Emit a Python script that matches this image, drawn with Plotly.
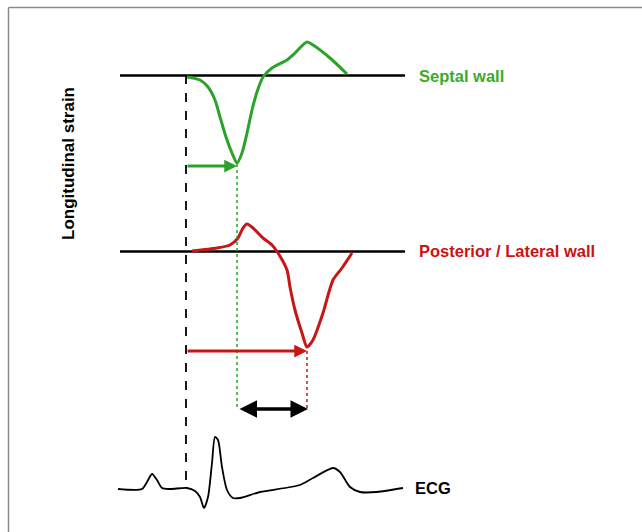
import plotly.graph_objects as go

# ---- data (schematic time / strain coordinates) ----
septal_t = [187, 200, 208, 215, 220, 226, 232, 237, 242, 247, 252, 257, 263, 272, 287, 293, 307, 313, 330, 347]
septal_s = [77, 80, 87, 100, 117, 137, 153, 163, 153, 133, 110, 92, 77, 68, 60, 55, 42, 45, 58, 74]

lateral_t = [192, 217, 230, 238, 243, 247, 253, 263, 272, 278, 287, 290, 295, 302, 307, 313, 323, 333, 342, 352]
lateral_s = [251, 248, 245, 238, 228, 224, 228, 238, 245, 253, 270, 287, 310, 333, 347, 340, 313, 280, 268, 253]

ecg_t = [118, 142, 147, 152, 157, 162, 170, 187, 195, 200, 204, 208, 212, 215, 218, 222, 227, 233, 240,
         260, 300, 313, 333, 340, 350, 360, 377, 403]
ecg_v = [489, 489, 482, 474, 480, 488, 489, 488, 491, 497, 508, 497, 463, 437, 440, 467, 490, 498, 498,
         492, 485, 478, 468, 472, 487, 492, 492, 488]

baseline_t = [120, 405]
septal_base = 75.5
lateral_base = 251.5
onset_t = 186
septal_peak_t, septal_peak_s = 237, 166
lateral_peak_t, lateral_peak_s = 307, 351
delay_s = 409
ecg_top = 75
ecg_bottom = 485

labels = ["Septal wall", "Posterior / Lateral wall", "ECG", "Longitudinal strain"]

GREEN = "#2ba32b"
GREEN_TXT = "#3aac28"
RED = "#c81616"
RED_TXT = "#cc1212"

fig = go.Figure()

# baselines
for b in (septal_base, lateral_base):
    fig.add_trace(go.Scatter(x=baseline_t, y=[b, b], mode="lines",
                             line=dict(color="black", width=2.5), hoverinfo="skip"))

# curves
fig.add_trace(go.Scatter(x=septal_t, y=septal_s, mode="lines",
                         line=dict(color=GREEN, width=3, shape="spline", smoothing=0.7)))
fig.add_trace(go.Scatter(x=lateral_t, y=lateral_s, mode="lines",
                         line=dict(color=RED, width=3, shape="spline", smoothing=0.7)))
fig.add_trace(go.Scatter(x=ecg_t, y=ecg_v, mode="lines",
                         line=dict(color="black", width=1.8, shape="spline", smoothing=0.7)))

# dashed onset line
fig.add_trace(go.Scatter(x=[onset_t, onset_t], y=[ecg_top, ecg_bottom], mode="lines",
                         line=dict(color="black", width=1.8, dash="dash")))
# dotted verticals
fig.add_trace(go.Scatter(x=[septal_peak_t, septal_peak_t], y=[septal_peak_s - 2, delay_s], mode="lines",
                         line=dict(color=GREEN, width=1.5, dash="dot")))
fig.add_trace(go.Scatter(x=[lateral_peak_t, lateral_peak_t], y=[lateral_peak_s, delay_s], mode="lines",
                         line=dict(color=RED, width=1.5, dash="dot")))

# arrows
fig.add_annotation(x=septal_peak_t, y=septal_peak_s, ax=onset_t, ay=septal_peak_s,
                   xref="x", yref="y", axref="x", ayref="y", text="", showarrow=True,
                   arrowhead=2, arrowsize=0.85, arrowwidth=3, arrowcolor=GREEN, standoff=0)
fig.add_annotation(x=lateral_peak_t, y=lateral_peak_s, ax=onset_t, ay=lateral_peak_s,
                   xref="x", yref="y", axref="x", ayref="y", text="", showarrow=True,
                   arrowhead=2, arrowsize=0.85, arrowwidth=3, arrowcolor=RED, standoff=0)
fig.add_annotation(x=lateral_peak_t + 1, y=delay_s, ax=septal_peak_t + 1, ay=delay_s,
                   xref="x", yref="y", axref="x", ayref="y", text="", showarrow=True,
                   arrowhead=2, startarrowhead=2, arrowside="end+start",
                   arrowsize=1.0, startarrowsize=1.0, arrowwidth=3.5,
                   arrowcolor="black", standoff=0, startstandoff=0)

FONT = "Liberation Sans, Arial, sans-serif"
fig.add_annotation(x=417, y=septal_base, text="<b>" + labels[0] + "</b>", showarrow=False,
                   xanchor="left", yanchor="middle", font=dict(family=FONT, size=16.5, color=GREEN_TXT))
fig.add_annotation(x=417, y=lateral_base - 1, text="<b>" + labels[1] + "</b>", showarrow=False,
                   xanchor="left", yanchor="middle", font=dict(family=FONT, size=16.5, color=RED_TXT))
fig.add_annotation(x=413, y=488, text="<b>" + labels[2] + "</b>", showarrow=False,
                   xanchor="left", yanchor="middle", font=dict(family=FONT, size=16.5, color="black"))
fig.add_annotation(x=68, y=164, text="<b>" + labels[3] + "</b>", showarrow=False, textangle=-90,
                   xanchor="center", yanchor="middle", font=dict(family=FONT, size=17, color="black"))

# frame (left and top)
fig.add_shape(type="line", x0=8.5, x1=8.5, y0=7.5, y1=532, xref="x", yref="y",
              line=dict(color="#8a8a8a", width=1.5))
fig.add_shape(type="line", x0=8.5, x1=642, y0=7.5, y1=7.5, xref="x", yref="y",
              line=dict(color="#8a8a8a", width=1.5))

fig.update_layout(
    width=642, height=532, margin=dict(l=0, r=0, t=0, b=0),
    paper_bgcolor="white", plot_bgcolor="white", showlegend=False,
    xaxis=dict(range=[0, 642], visible=False, fixedrange=True),
    yaxis=dict(range=[532, 0], visible=False, fixedrange=True),
)

fig.write_html("out.html", config={"displayModeBar": False})
